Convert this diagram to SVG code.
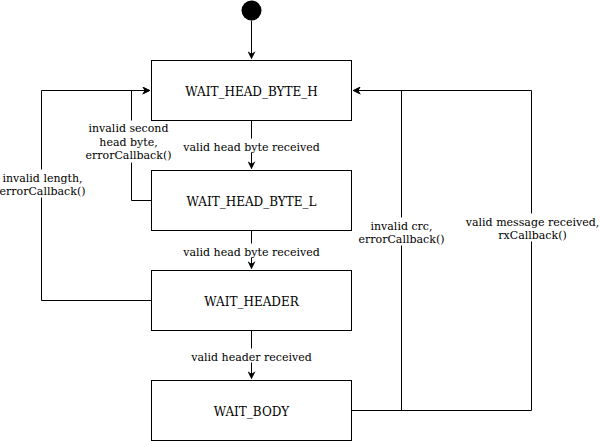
<svg xmlns="http://www.w3.org/2000/svg" width="600" height="441" viewBox="0 0 600 441">
<style>
.box{fill:#fff;stroke:#000;stroke-width:1}
.nt{font-family:"DejaVu Serif",serif;font-size:12px;fill:#000;text-anchor:middle}
.lt{font-family:"DejaVu Serif",serif;font-size:11px;fill:#000;text-anchor:middle}
.ln{fill:none;stroke:#000;stroke-width:1}
.bg{fill:#fff}
</style>
<defs>
<marker id="ah" viewBox="0 0 10 10" refX="9" refY="5" markerWidth="8" markerHeight="8" markerUnits="userSpaceOnUse" orient="auto">
<path d="M0,0 L10,5 L0,10 L3,5 Z" fill="#000"/>
</marker>
</defs>
<g transform="translate(0.5,0.5)">
<g id="connectors">
<path class="ln" d="M251,20 V58" marker-end="url(#ah)"/>
<path class="ln" d="M251,120 V168" marker-end="url(#ah)"/>
<path class="ln" d="M251,230 V268" marker-end="url(#ah)"/>
<path class="ln" d="M251,330 V378" marker-end="url(#ah)"/>
<path class="ln" d="M151,300 H41 V90 H149" marker-end="url(#ah)"/>
<path class="ln" d="M151,200 H131 V90 H149" marker-end="url(#ah)"/>
<path class="ln" d="M351,410 H401 V90 H353" marker-end="url(#ah)"/>
<path class="ln" d="M351,410 H531 V90 H353" marker-end="url(#ah)"/>
</g>
<g id="labels">
<rect class="bg" x="182" y="138" width="139" height="14"/>
<text class="lt" x="251" y="150">valid head byte received</text>
<rect class="bg" x="182" y="243" width="139" height="14"/>
<text class="lt" x="251" y="255">valid head byte received</text>
<rect class="bg" x="190" y="348" width="123" height="14"/>
<text class="lt" x="251" y="360">valid header received</text>
<rect class="bg" x="85" y="120" width="87" height="42"/>
<text class="lt" x="128" y="131">invalid second</text>
<text class="lt" x="128" y="145">head byte,</text>
<text class="lt" x="128" y="158">errorCallback()</text>
<rect class="bg" x="0" y="169" width="86" height="28"/>
<text class="lt" x="42" y="181">invalid length,</text>
<text class="lt" x="42" y="194">errorCallback()</text>
<rect class="bg" x="357" y="217" width="88" height="28"/>
<text class="lt" x="401" y="229">invalid crc,</text>
<text class="lt" x="401" y="242">errorCallback()</text>
<rect class="bg" x="464" y="213" width="136" height="28"/>
<text class="lt" x="532" y="225">valid message received,</text>
<text class="lt" x="532" y="238">rxCallback()</text>
</g>
<g id="init"><circle cx="251" cy="10" r="10" fill="#000"/></g>
<g id="n1"><rect class="box" x="151" y="60" width="200" height="60"/><text class="nt" x="251" y="95">WAIT_HEAD_BYTE_H</text></g>
<g id="n2"><rect class="box" x="151" y="170" width="200" height="60"/><text class="nt" x="251" y="205">WAIT_HEAD_BYTE_L</text></g>
<g id="n3"><rect class="box" x="151" y="270" width="200" height="60"/><text class="nt" x="251" y="305">WAIT_HEADER</text></g>
<g id="n4"><rect class="box" x="151" y="380" width="200" height="60"/><text class="nt" x="251" y="415">WAIT_BODY</text></g>
</g>
</svg>
